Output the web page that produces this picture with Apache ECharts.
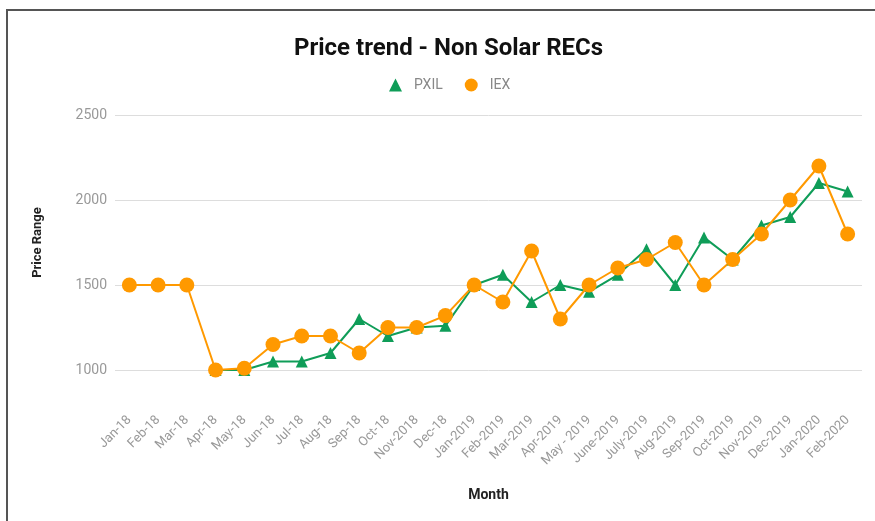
<!DOCTYPE html>
<html>
<head>
<meta charset="utf-8">
<script src="https://cdn.jsdelivr.net/npm/echarts@6/dist/echarts.min.js"></script>
<style>
html,body{margin:0;padding:0;background:#fff;}
#c{width:875px;height:521px;}
</style>
</head>
<body>
<div id="c"></div>
<script>
const months = ["Jan-18","Feb-18","Mar-18","Apr-18","May-18","Jun-18","Jul-18","Aug-18","Sep-18","Oct-18","Nov-2018","Dec-18",
  "Jan-2019","Feb-2019","Mar-2019","Apr-2019","May - 2019","June-2019","July-2019","Aug-2019","Sep-2019","Oct-2019","Nov-2019","Dec-2019","Jan-2020","Feb-2020"];
const pxil = [null,null,null,1000,1000,1050,1050,1100,1300,1200,1250,1260,
  1500,1560,1400,1500,1460,1560,1710,1500,1780,1650,1850,1900,2100,2050];
const iex = [1500,1500,1500,1000,1010,1150,1200,1200,1100,1250,1250,1320,
  1500,1400,1700,1300,1500,1600,1650,1750,1500,1650,1800,2000,2200,1800];
const yTicks = [1000,1500,2000,2500];

const chart = echarts.init(document.getElementById('c'));
chart.setOption({
  backgroundColor:'#fff',
  animation:false,
  textStyle:{fontFamily:'Roboto'},
  title:{text:'Price trend - Non Solar RECs',left:289,top:32,
    textStyle:{fontSize:24,fontWeight:'bold',color:'#111',fontFamily:'Roboto'}},
  legend:{top:73,left:384,itemGap:22,itemWidth:13,itemHeight:13,
    textStyle:{color:'#888',fontSize:14,fontFamily:'Roboto',padding:[0,0,0,7]},
    data:[{name:'PXIL',icon:'triangle'},{name:'IEX',icon:'circle'}]},
  graphic:[{type:'rect',shape:{x:7,y:10,width:900,height:600},
    style:{fill:'none',stroke:'#555',lineWidth:2},z:100}],
  grid:{left:115,right:13,top:115,bottom:151},
  xAxis:{type:'category',data:months,boundaryGap:true,
    name:'Month',nameLocation:'middle',nameGap:118,
    nameTextStyle:{fontWeight:'bold',fontSize:14,color:'#222'},
    axisLine:{show:false},axisTick:{show:false},
    axisLabel:{rotate:45,margin:48,interval:0,color:'#999',fontSize:13}},
  yAxis:{type:'value',min:yTicks[0],max:yTicks[yTicks.length-1],interval:500,
    name:'Price Range',nameLocation:'middle',nameGap:71,
    nameTextStyle:{fontWeight:'bold',fontSize:13,color:'#222'},
    axisLine:{show:false},axisTick:{show:false},
    axisLabel:{color:'#999',fontSize:14,margin:8,formatter:function(v){return String(v);}},
    splitLine:{lineStyle:{color:'#ddd',width:1}}},
  series:[
    {name:'PXIL',type:'line',data:pxil,symbol:'triangle',symbolSize:12,
      color:'#0f9d58',lineStyle:{width:2},itemStyle:{color:'#0f9d58'},connectNulls:false},
    {name:'IEX',type:'line',data:iex,symbol:'circle',symbolSize:15,
      color:'#ff9900',lineStyle:{width:2},itemStyle:{color:'#ff9900'}}
  ]
});
</script>
</body>
</html>
